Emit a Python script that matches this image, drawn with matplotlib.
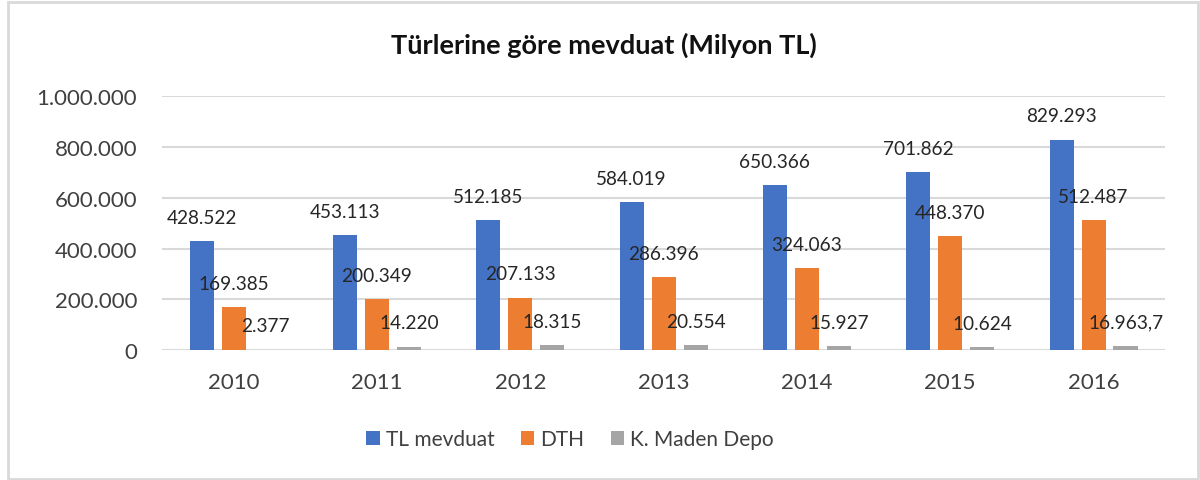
import numpy as np
import matplotlib
matplotlib.use('Agg')
import matplotlib.pyplot as plt
from matplotlib.patches import Rectangle
from matplotlib.ticker import FuncFormatter

plt.rcParams['font.family'] = ['Lato', 'DejaVu Sans']

years = ['2010', '2011', '2012', '2013', '2014', '2015', '2016']
tl_mevduat = [428522, 453113, 512185, 584019, 650366, 701862, 829293]
dth = [169385, 200349, 207133, 286396, 324063, 448370, 512487]
maden_depo = [2377, 14220, 18315, 20554, 15927, 10624, 16963.7]

tl_labels = ['428.522', '453.113', '512.185', '584.019', '650.366', '701.862', '829.293']
dth_labels = ['169.385', '200.349', '207.133', '286.396', '324.063', '448.370', '512.487']
maden_labels = ['2.377', '14.220', '18.315', '20.554', '15.927', '10.624', '16.963,7']

text_color = '#404040'

fig = plt.figure(figsize=(12, 4.81), dpi=100)
ax = fig.add_axes([0.135, 0.270, 0.836, 0.528])

x = np.arange(len(years))
w = 0.168
step = 0.223

b1 = ax.bar(x - step, tl_mevduat, w, color='#4472C4', label='TL mevduat', zorder=3)
b2 = ax.bar(x, dth, w, color='#ED7D31', label='DTH', zorder=3)
b3 = ax.bar(x + step, maden_depo, w, color='#A5A5A5', label='K. Maden Depo', zorder=3)

for bars, labels in [(b1, tl_labels), (b2, dth_labels), (b3, maden_labels)]:
    ax.bar_label(bars, labels=labels, padding=11, fontsize=13.7, color='#262626', zorder=4)

ax.set_xlim(-0.5, len(years) - 0.5)
ax.set_ylim(0, 1000000)
ax.set_yticks(np.arange(0, 1000001, 200000))
ax.yaxis.set_major_formatter(FuncFormatter(lambda v, p: f'{int(v):,}'.replace(',', '.')))
ax.set_xticks(x)
ax.set_xticklabels(years)
ax.tick_params(axis='both', length=0, labelsize=16, labelcolor=text_color)
ax.tick_params(axis='x', pad=16)
ax.tick_params(axis='y', pad=18)
ax.grid(axis='y', color='#D9D9D9', linewidth=1.5, zorder=0)
for s in ax.spines.values():
    s.set_visible(False)

fig.text(0.503, 1 - 45 / 481, 'Türlerine göre mevduat (Milyon TL)', ha='center', va='center',
         fontsize=19.5, fontweight='bold', color='#111111')

ax.legend(loc='center', bbox_to_anchor=(570 / 1200, 1 - 440 / 481), bbox_transform=fig.transFigure,
          ncol=3, frameon=False, fontsize=15, handlelength=0.65, handleheight=0.65,
          handletextpad=0.3, columnspacing=1.25, labelcolor=text_color)

fig.patches.append(Rectangle((8 / 1200, 1 / 481), 1190 / 1200, 477 / 481, transform=fig.transFigure,
                             fill=False, edgecolor='#D9D9D9', linewidth=2))

fig.savefig('out.png', dpi=100, facecolor='white')
